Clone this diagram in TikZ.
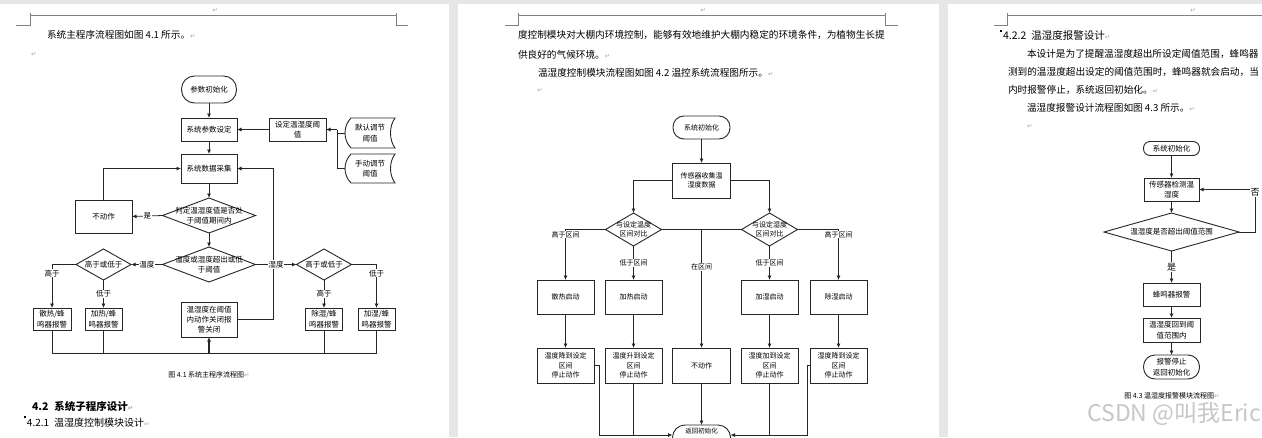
\documentclass[tikz,border=0pt]{standalone}
\usepackage{fontspec}
\setmainfont{Noto Sans CJK SC}
\newfontfamily\djv{DejaVu Sans}
\usetikzlibrary{shapes.geometric,arrows.meta}
\newcommand\fsz[2]{\fontsize{#1pt}{#2pt}\selectfont}
\newcommand\parmk{{\djv\fontsize{6.5pt}{7pt}\selectfont\color{black!35}↵}}
\definecolor{gapgrey}{HTML}{E6E6E6}
\begin{document}
\begin{tikzpicture}[x=1pt,y=-1pt,
  every node/.style={inner sep=0pt, outer sep=0pt},
  wh/.style 2 args={minimum width=#1pt, minimum height=#2pt},
  ln/.style={draw=black!85, line width=0.8pt},
  arr/.style={ln, -{Latex[length=4.5pt,width=4pt]}},
  box/.style={draw=black!85, line width=0.9pt, fill=white, align=center, font=\fsz{7.5}{10.3}},
  boxb/.style={box, font=\fsz{7}{9.3}},
  boxc/.style={box, font=\fsz{7.5}{10.5}},
  dia/.style={diamond, draw=black!85, line width=0.9pt, fill=white},
  dtxt/.style={align=center, font=\fsz{7.5}{10.3}},
  dtxtb/.style={align=center, font=\fsz{7}{9.5}},
  lbl/.style={fill=white, inner sep=0.6pt, font=\fsz{7.5}{8}},
  lblb/.style={fill=white, inner sep=0.6pt, font=\fsz{7}{8}},
  lblc/.style={fill=white, inner sep=0.6pt, font=\fsz{9}{10}},
  body/.style={anchor=west, font=\fsz{9.65}{11}},
  hdr/.style={draw=black!50, line width=0.7pt},
  shp/.style={draw=black!85, line width=0.9pt, fill=white},
]
\useasboundingbox (0,0) rectangle (1262,437);
\clip (0,0) rectangle (1262,437);
% page backgrounds
\fill[gapgrey] (0,0) rectangle (1262,437);
\fill[white] (0,4) rectangle (449,437);
\fill[white] (458,4) rectangle (939,437);
\fill[white] (948,4) rectangle (1262,437);

% ---------- headers ----------
\draw[hdr] (16,25) -- (30,25) -- (30,13);
\draw[hdr] (30,15) -- (396,15);
\draw[hdr] (396,13) -- (396,25) -- (408,25);
\draw[hdr] (505,25) -- (518,25) -- (518,13);
\draw[hdr] (518,15) -- (885,15);
\draw[hdr] (885,13) -- (885,25) -- (898,25);
\draw[hdr] (994,25) -- (1007,25) -- (1007,13);
\draw[hdr] (1007,15) -- (1262,15);
\node (h1) at (215,10) {\parmk};
\node (h2) at (703,10) {\parmk};
\node (h3) at (1193,10) {\parmk};

% ---------- page 1 text ----------
\node[body] (t11) at (47,35) {系统主程序流程图如图 4.1 所示。\parmk};
\node[anchor=west] (t12) at (31,54) {\parmk};
\node[anchor=west, font=\bfseries\fsz{10.5}{12}] (t13) at (32,406) {4.2\hspace{6pt}系统子程序设计\parmk};
\fill (24,416) rectangle (25.5,417.5);
\node[anchor=west, font=\fsz{10}{12}] (t14) at (27,423) {4.2.1\hspace{5pt}温湿度控制模块设计\parmk};

% ---------- page 1 flowchart ----------
\node[box, wh={55}{27}, rounded corners=13pt] (p1init) at (209,89.5) {参数初始化};
\node[box, wh={56}{23}] (p1set) at (209,129.5) {系统参数设定};
\node[box, wh={57}{23}] (p1thr) at (297.5,129.5) {设定温湿度阈\\值};
\draw[shp] (351,118) -- (395,118) .. controls (389,126) and (389,140) .. (395,148) -- (351,148) .. controls (343,140) and (343,126) .. (351,118) -- cycle;
\node[align=center, font=\fsz{7.5}{10.3}, wh={50}{30}] (p1def) at (370,133) {默认调节\\阈值};
\draw[shp] (351,154) -- (395,154) .. controls (389,162) and (389,175) .. (395,183) -- (351,183) .. controls (343,175) and (343,162) .. (351,154) -- cycle;
\node[align=center, font=\fsz{7.5}{10.3}, wh={50}{29}] (p1man) at (370,168.5) {手动调节\\阈值};
\node[box, wh={56}{29}] (p1acq) at (209,168.5) {系统数据采集};
\node[dia, wh={93}{35}] (p1d1) at (209,215.5) {};
\node[dtxt] (p1d1t) at (p1d1) {判定温湿度值是否处\\于阈值期间内};
\node[box, wh={57}{33}] (p1no) at (103.5,216.5) {不动作};
\node[dia, wh={93}{35}] (p1d2) at (209,264.5) {};
\node[dtxt] (p1d2t) at (p1d2) {温度或湿度超出或低\\于阈值};
\node[dia, wh={55}{31}] (p1dl) at (103.5,264.5) {};
\node[dtxt] (p1dlt) at (p1dl) {高于或低于};
\node[dia, wh={55}{31}] (p1dr) at (324,264.5) {};
\node[dtxt] (p1drt) at (p1dr) {高于或低于};
\node[box, wh={38}{22}] (p1b1) at (52,319) {散热/蜂\\鸣器报警};
\node[box, wh={37}{22}] (p1b2) at (103.5,319) {加热/蜂\\鸣器报警};
\node[box, wh={37}{22}] (p1b3) at (324,319) {除湿/蜂\\鸣器报警};
\node[box, wh={37}{22}] (p1b4) at (376.5,319) {加湿/蜂\\鸣器报警};
\node[box, wh={56}{35}] (p1ok) at (209,319.5) {温湿度在阈值\\内动作关闭报\\警关闭};

\draw[arr] (p1init) -- (p1set);
\draw[arr] (p1thr.west) -- (p1set.east);
\coordinate (j1) at (337,129.5);
\draw[arr] (j1) -- (p1thr.east);
\draw[ln] (p1def.west) -| (j1);
\draw[ln] (p1man.west) -| (j1);
\draw[arr] (p1set) -- (p1acq);
\draw[arr] (p1acq) -- (p1d1);
\draw[arr] (p1d1.west) -- node[lbl]{是} (p1no.east);
\draw[arr] (p1no.north) |- (p1acq.west);
\coordinate (r1) at (273,319.5);
\draw[arr] (p1ok.east) -- (r1) |- (p1acq.east);
\draw[arr] (p1d1.south) -- (p1d2.north);
\draw[arr] (p1d2.west) -- node[lbl]{温度} (p1dl.east);
\draw[arr] (p1d2.east) -- node[lbl]{湿度} (p1dr.west);
\draw[arr] (p1dl.west) -| node[lbl, pos=0.6]{高于} (p1b1.north);
\draw[arr] (p1dl.south) -- node[lbl]{低于} (p1b2.north);
\draw[arr] (p1dr.south) -- node[lbl]{高于} (p1b3.north);
\draw[arr] (p1dr.east) -| node[lbl, pos=0.6]{低于} (p1b4.north);
\coordinate (busL) at (52,353);
\coordinate (busR) at (376.5,353);
\draw[ln] (p1b1.south) -- (busL) -- (busR) -- (p1b4.south);
\draw[ln] (p1b2.south) -- (p1b2.south |- busL);
\draw[ln] (p1b3.south) -- (p1b3.south |- busL);
\draw[arr, line width=1.2pt] (p1ok.south |- busL) -- (p1ok.south);
\node[font=\fsz{7}{8}] (cap1) at (209,375) {图 4.1 系统主程序流程图\parmk};

% ---------- page 2 text ----------
\node[body] (t21) at (518,35) {度控制模块对大棚内环境控制，能够有效地维护大棚内稳定的环境条件，为植物生长提};
\node[body] (t22) at (518,55) {供良好的气候环境。\parmk};
\node[body] (t23) at (538,73) {温湿度控制模块流程图如图 4.2 温控系统流程图所示。\parmk};
\node[anchor=west] (t24) at (537,90) {\parmk};

% ---------- page 2 flowchart ----------
\node[boxb, wh={57}{23}, rounded corners=11pt] (p2init) at (701.5,127.5) {系统初始化};
\node[boxb, wh={58}{35}] (p2sens) at (701.5,180.5) {传感器收集温\\湿度数据};
\node[dia, wh={56}{33}] (p2dA) at (633.5,229.5) {};
\node[dtxtb] (p2dAt) at (p2dA) {与设定温度\\区间对比};
\node[dia, wh={56}{33}] (p2dB) at (769.5,229.5) {};
\node[dtxtb] (p2dBt) at (p2dB) {与设定湿度\\区间对比};
\node[boxb, wh={57}{34}] (p2h1) at (565.5,297) {散热启动};
\node[boxb, wh={57}{34}] (p2h2) at (633.5,297) {加热启动};
\node[boxb, wh={57}{34}] (p2h3) at (769.5,297) {加湿启动};
\node[boxb, wh={57}{34}] (p2h4) at (838.5,297) {除湿启动};
\node[boxb, wh={57}{35}] (p2s1) at (565.5,365.5) {温度降到设定\\区间\\停止动作};
\node[boxb, wh={57}{35}] (p2s2) at (633.5,365.5) {温度升到设定\\区间\\停止动作};
\node[boxb, wh={58}{35}] (p2no) at (701.5,365.5) {不动作};
\node[boxb, wh={57}{35}] (p2s3) at (769.5,365.5) {湿度加到设定\\区间\\停止动作};
\node[boxb, wh={57}{35}] (p2s4) at (838.5,365.5) {湿度降到设定\\区间\\停止动作};
\node[draw=black!85, line width=0.9pt, fill=white, wh={58}{26}, rounded corners=12.5pt] (p2ret) at (701.5,438) {};
\node[font=\fsz{6.5}{7}] (p2rett) at (701.5,431.5) {返回初始化};

\draw[arr] (p2init) -- (p2sens);
\draw[arr] (p2sens.west) -| (p2dA.north);
\draw[arr] (p2sens.east) -| (p2dB.north);
\draw[ln] (p2dA.east) -- (p2dB.west);
\coordinate (m2) at (701.5,229.5);
\draw[arr] (m2) -- node[lblb, pos=0.316]{在区间} (p2no.north);
\draw[arr] (p2dA.west) -| node[lblb, pos=0.55]{高于区间} (p2h1.north);
\draw[arr] (p2dA.south) -- node[lblb]{低于区间} (p2h2.north);
\draw[arr] (p2dB.south) -- node[lblb]{低于区间} (p2h3.north);
\draw[arr] (p2dB.east) -| node[lblb, pos=0.55]{高于区间} (p2h4.north);
\draw[arr] (p2h1) -- (p2s1);
\draw[arr] (p2h2) -- (p2s2);
\draw[arr] (p2h3) -- (p2s3);
\draw[arr] (p2h4) -- (p2s4);
\draw[arr] (p2no) -- (p2ret);
\coordinate (bl2) at (599,435);
\coordinate (br2) at (807,435);
\draw[arr] (p2s1.east) -| (bl2) -- (p2ret.west |- bl2);
\draw[ln] (p2s2.south) -- (p2s2.south |- bl2);
\draw[arr] (p2s4.west) -| (br2) -- (p2ret.east |- br2);
\draw[ln] (p2s3.south) -- (p2s3.south |- br2);

% ---------- page 3 text ----------
\fill (1000,30) rectangle (1001.5,31.5);
\node[anchor=west, font=\fsz{10.5}{12}] (t31) at (1003,35) {4.2.2\hspace{5pt}温湿度报警设计\parmk};
\node[body] (t32) at (1027,54) {本设计是为了提醒温湿度超出所设定阈值范围，蜂鸣器};
\node[body] (t33) at (1008,72) {测到的温湿度超出设定的阈值范围时，蜂鸣器就会启动，当};
\node[body] (t34) at (1008,90) {内时报警停止，系统返回初始化。\parmk};
\node[body] (t35) at (1027,108) {温湿度报警设计流程图如图 4.3 所示。\parmk};
\node[anchor=west] (t36) at (1027,126) {\parmk};

% ---------- page 3 flowchart ----------
\node[boxc, wh={56}{14}, rounded corners=6.5pt] (p3init) at (1171.5,148.5) {系统初始化};
\node[boxc, wh={55}{23}] (p3sens) at (1171.5,189.5) {传感器检测温\\湿度};
\node[dia, wh={135}{38}] (p3d) at (1171.5,232) {};
\node[align=center, font=\fsz{7.5}{10}] (p3dt) at (p3d) {温湿度是否超出阈值范围};
\node[boxc, wh={57}{23}] (p3alarm) at (1171.5,294.5) {蜂鸣器报警};
\node[boxc, wh={57}{24}] (p3back) at (1171.5,330) {温湿度回到阈\\值范围内};
\node[boxc, wh={56}{24}, rounded corners=11.5pt] (p3end) at (1171.5,367) {报警停止\\返回初始化};

\draw[arr] (p3init) -- (p3sens);
\draw[arr] (p3sens) -- (p3d.north);
\coordinate (q1) at (1255,232);
\draw[arr] (p3d.east) -- (q1) |- node[lblc, pos=0.47]{否} (p3sens.east);
\draw[arr] (p3d.south) -- node[lblc]{是} (p3alarm.north);
\draw[arr] (p3alarm) -- (p3back);
\draw[arr] (p3back) -- (p3end);
\node[font=\fsz{7}{8}] (cap3) at (1172,396) {图 4.3 温湿度报警模块流程图\parmk};

% watermark
\node[anchor=east, font=\fsz{23}{24}, text=black!22] (wm) at (1261,414) {CSDN @叫我Eric};
\end{tikzpicture}
\end{document}
